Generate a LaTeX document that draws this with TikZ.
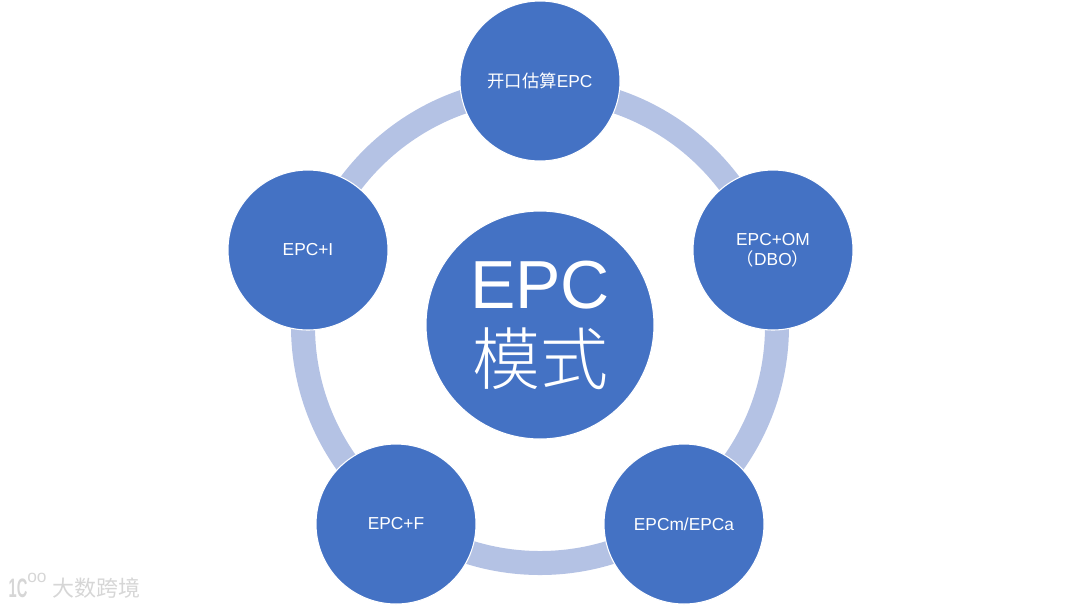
\documentclass[tikz,border=0pt]{standalone}
\usepackage{fontspec}
\setmainfont{Liberation Sans}
\newfontfamily\cjk{Noto Sans CJK SC}
\newfontfamily\cjklight{Noto Sans CJK SC Light}
\usetikzlibrary{positioning}
\definecolor{discblue}{HTML}{4472C4}
\definecolor{ringblue}{HTML}{B4C2E4}
\definecolor{markgray}{HTML}{D6D6D6}
\begin{document}
\begin{tikzpicture}[
  x=0.75pt, y=-0.75pt,
  disc/.style={circle, fill=discblue, draw=white, line width=0.8pt,
               minimum size=120pt, inner sep=0pt, align=center,
               text=white, font=\fontsize{13}{15}\selectfont},
  hub/.style={disc, minimum size=171pt, font=\fontsize{51}{58}\selectfont},
  ring/.style={draw=ringblue, line width=18pt},
  logo/.style={text=markgray, inner sep=0pt, font=\fontsize{16.5}{18}\selectfont},
]
  \useasboundingbox (0,0) rectangle (1080,608);

  % Ring behind the discs
  \coordinate (mid) at (540,326);
  \draw[ring] (mid) circle (237*0.75pt);

  \node[hub] (epc) at (540,325)
    {EPC\\[-1pt]{\cjklight\fontsize{51}{56}\selectfont 模式}};
  \node[disc] (open) at (540,81) {{\cjk 开口估算}EPC};
  \node[disc] (om) at (773,250) {EPC+OM\\{\cjk （}DBO{\cjk ）}};
  \node[disc] (cm) at (684,524) {EPCm/EPCa};
  \node[disc] (fin) at (396,524) {EPC+F};
  \node[disc] (inv) at (308,250) {EPC+I};

  % Watermark
  \node[logo, font=\bfseries\fontsize{20}{20}\selectfont] (sign) at (18,588)
    {\scalebox{0.55}[1]{1C}};
  \node[logo, font=\fontsize{13}{13}\selectfont] (zeros) at (37,578) {oo};
  \node[logo, anchor=west] (site) at (52,588) {\cjk 大数跨境};
\end{tikzpicture}
\end{document}
